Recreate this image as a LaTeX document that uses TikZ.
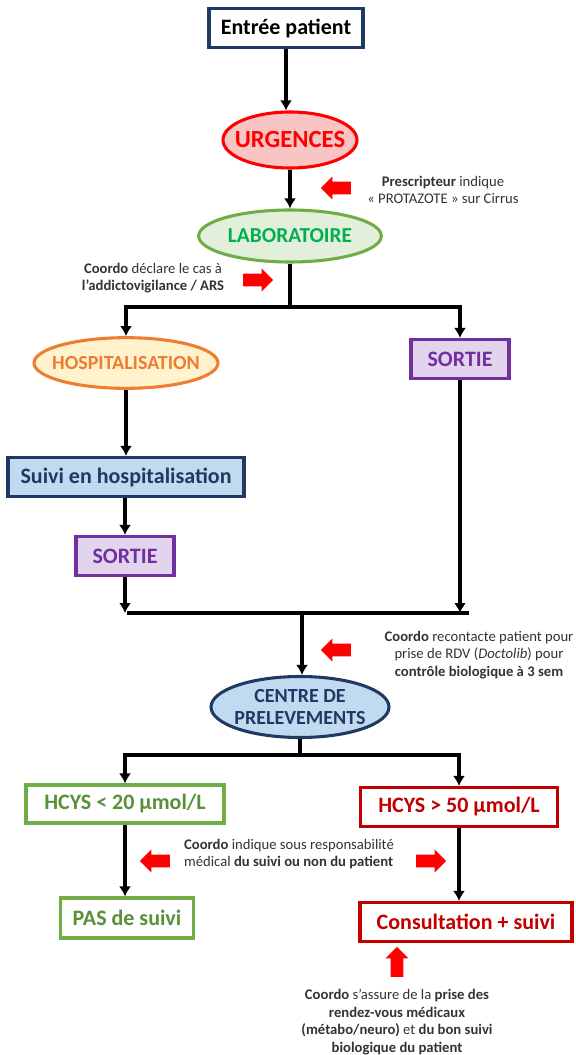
\documentclass[tikz,border=0pt]{standalone}
\usepackage{fontspec}
\setmainfont{Carlito}
\usepackage{tikz}
\usetikzlibrary{arrows.meta}
\usetikzlibrary{shapes.geometric}
\usetikzlibrary{shapes.arrows}
\usepackage{xcolor}
\definecolor{navy}{HTML}{1F3864}
\definecolor{bluefill}{HTML}{C2DAEF}
\definecolor{urgfill}{HTML}{F8C4C4}
\definecolor{labfill}{HTML}{E2EFDA}
\definecolor{labline}{HTML}{70AD47}
\definecolor{labtext}{HTML}{00B050}
\definecolor{lowtext}{HTML}{5A9038}
\definecolor{hospfill}{HTML}{FFF2CC}
\definecolor{hospline}{HTML}{ED7D31}
\definecolor{sortfill}{HTML}{E2D4EC}
\definecolor{sortline}{HTML}{7030A0}
\definecolor{darkred}{HTML}{C00000}

\begin{document}
\begin{tikzpicture}[x=0.75pt,y=-0.75pt]
\tikzset{>={Latex[width=9pt,length=7.5pt]}}
\tikzstyle{link}=[->,line width=2.5pt]
\tikzstyle{box}=[rectangle,line width=2.3pt,inner sep=0pt,minimum height=29.25pt,font=\fontsize{16.5}{19}\selectfont\bfseries]
\tikzstyle{oval}=[ellipse,line width=2.3pt,inner sep=0pt]
\tikzstyle{note}=[align=center,text=black!80,font=\fontsize{11}{13.2}\selectfont]
\tikzstyle{bigarrow}=[single arrow,fill=red,draw=none,minimum height=22.5pt,minimum width=17pt,single arrow head extend=4pt,inner sep=4.5pt]

\useasboundingbox (0,0) rectangle (575,1055);

% main chain
\node[box,draw=navy,fill=white,minimum width=115.5pt](entree) at (286,28){Entrée patient};
\node[oval,draw=red,fill=urgfill,minimum width=100.5pt,minimum height=42pt,
  label={[text=red,font=\fontsize{18.5}{20}\selectfont\bfseries]center:URGENCES}](urg) at (290,140){};
\node[oval,draw=labline,fill=labfill,minimum width=137pt,minimum height=39pt,
  label={[text=labtext,font=\fontsize{16}{18}\selectfont\bfseries]center:LABORATOIRE}](lab) at (290,236){};

\node[oval,draw=hospline,fill=hospfill,minimum width=138pt,minimum height=38pt,
  label={[text=hospline,font=\fontsize{15}{17}\selectfont\bfseries]center:HOSPITALISATION}](hosp) at (126,363){};
\node[box,draw=sortline,fill=sortfill,text=sortline,minimum width=73.5pt](sortieA) at (460,359){SORTIE};
\node[box,draw=navy,fill=bluefill,text=navy,minimum width=177pt](suivi) at (126,477){Suivi en hospitalisation};
\node[box,draw=sortline,fill=sortfill,text=sortline,minimum width=73.5pt](sortieB) at (125,556){SORTIE};

\node[oval,draw=navy,fill=bluefill,minimum width=133.5pt,minimum height=45.75pt,
  label={[text=navy,align=center,font=\fontsize{15}{16.3}\selectfont\bfseries]center:{CENTRE DE\\PRELEVEMENTS}}](centre) at (300,707){};

\node[box,draw=labline,fill=white,text=lowtext,minimum width=148.5pt,minimum height=28.5pt](hlow) at (125,804){HCYS < 20 µmol/L};
\node[box,draw=darkred,fill=white,text=darkred,minimum width=147.75pt](hhigh) at (459,807){HCYS > 50 µmol/L};
\node[box,draw=labline,fill=white,text=lowtext,minimum width=100pt,minimum height=30pt](pas) at (127,918){PAS de suivi};
\node[box,draw=darkred,fill=white,text=darkred,minimum width=159pt](consult) at (466,922){Consultation + suivi};

% notes and red arrows
\node[note](notePresc) at (443,190){\textbf{Prescripteur} indique\\«~PROTAZOTE~» sur Cirrus};
\node[bigarrow,shape border rotate=180](arrPresc) at (339,188){};
\node[note](noteDecl) at (153,278){\textbf{Coordo} déclare le cas à\\\textbf{l’addictovigilance / ARS}};
\node[bigarrow](arrDecl) at (255,280){};
\node[note](noteRdv) at (479,655){\textbf{Coordo} recontacte patient pour\\prise de RDV (\textit{Doctolib}) pour\\\textbf{contrôle biologique à 3 sem}};
\node[bigarrow,shape border rotate=180](arrRdv) at (339,650){};
\node[note,align=left](noteResp) at (289,854){\textbf{Coordo} indique sous responsabilité\\médical \textbf{du suivi ou non du patient}};
\node[bigarrow,shape border rotate=180](arrLow) at (158,861){};
\node[bigarrow](arrHigh) at (428,861){};
\node[note](noteSuivi) at (397,1022){\textbf{Coordo} s’assure de la \textbf{prise des}\\\textbf{rendez-vous médicaux}\\\textbf{(métabo/neuro)} et \textbf{du bon suivi}\\\textbf{biologique du patient}};
\node[bigarrow,shape border rotate=90](arrSuivi) at (397,965){};

% connectors
\coordinate (split1) at (290,307);
\coordinate (mergeL) at (125,613);
\coordinate (mergeStart) at (127,613);
\coordinate (mergeR) at (469,613);
\coordinate (merge) at (302,613);
\coordinate (split2) at (300,755);

\draw [link] (entree) to (entree |- urg.north);
\draw [link] (urg) to (lab);
\draw [line width=2.5pt] (lab) to (split1);
\draw [link] (split1) -| (hosp);
\draw [link] (split1) -| (sortieA);
\draw [link] (hosp) to (hosp |- suivi.north);
\draw [link] (suivi.south -| sortieB) to (sortieB);
\draw [link] (sortieB) to (mergeL);
\draw [link] (sortieA) to (sortieA |- mergeL);
\draw [line width=2.5pt] (mergeStart) to (mergeR);
\draw [link] (merge) to (merge |- centre.north);
\draw [line width=2.5pt] (centre) to (split2);
\draw [link] (split2) -| (hlow);
\draw [link] (split2) -| (hhigh);
\draw [link] (hlow) to (hlow |- pas.north);
\draw [link] (hhigh) to (hhigh |- consult.north);
\end{tikzpicture}
\end{document}
